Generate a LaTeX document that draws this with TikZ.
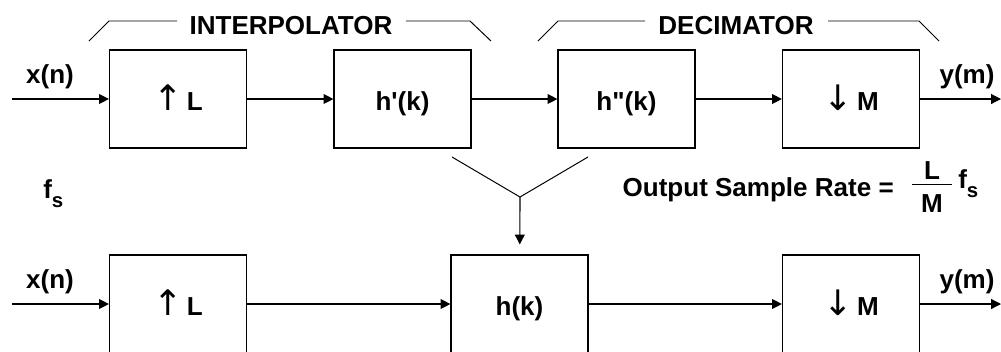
\documentclass[tikz,border=0pt]{standalone}
\usepackage{fontspec}
\setmainfont{Liberation Sans}
\newfontfamily\arrowfont{DejaVu Sans}
\usetikzlibrary{arrows.meta}

\newcommand{\upL}{{\arrowfont\mdseries\fontsize{25}{25}\selectfont\char"2191}\,L}
\newcommand{\dnM}{{\arrowfont\mdseries\fontsize{25}{25}\selectfont\char"2193}\,M}
\newcommand{\fsub}{f\raisebox{-6.4pt}{\fontsize{14.5}{15}\selectfont s}}

\begin{document}
\begin{tikzpicture}[x=0.025cm, y=-0.025cm,
  font=\fontsize{18.5}{20}\selectfont\bfseries,
  blk/.style={draw, line width=0.8pt, minimum width=3.425cm, minimum height=2.45cm, inner sep=0pt, text height=18pt, text depth=1pt},
  arr/.style={line width=0.8pt, -{Triangle[length=7pt,width=7pt]}},
  brace/.style={line width=0.7pt}]
\clip (0,0) rectangle (1001,351);
% top chain
\node[blk] (up1) at (178,99) {\upL};
\node[blk] (h1) at (402.5,99) {h\textquotesingle(k)};
\node[blk] (h2) at (626.5,99) {h\textquotedbl(k)};
\node[blk] (dn1) at (851,99) {\dnM};
\coordinate (in1) at (12,99);
\coordinate (out1) at (1001,99);
\node (x1) at (50,77) {x(n)};
\node (y1) at (967,77) {y(m)};
\draw[arr] (in1) -- (up1);
\draw[arr] (up1) -- (h1);
\draw[arr] (h1) -- (h2);
\draw[arr] (h2) -- (dn1);
\draw[arr] (dn1) -- (out1);
% brackets
\node (interp) at (291,26) {INTERPOLATOR};
\node (decim) at (736,26) {DECIMATOR};
\draw[brace] (89,41) -- (109,21) -- (177,21);
\draw[brace] (406,21) -- (470,21) -- (491,41);
\draw[brace] (538,41) -- (558,21) -- (645,21);
\draw[brace] (828,21) -- (919,21) -- (939,41);
% merge
\coordinate (vl) at (452,157);
\coordinate (vr) at (588,157);
\coordinate (vjoin) at (520,197);
\draw[brace] (vl) -- (vjoin) -- (vr);
\node[anchor=base west, inner sep=0pt] (fs) at (43,198) {\fsub};
\node[anchor=base east, inner sep=0pt] (rate) at (894,196) {Output Sample Rate =};
\node[inner sep=0pt] (fracL) at (932,171) {L};
\node[inner sep=0pt] (fracM) at (932,204) {M};
\draw[brace] (912,184) -- (952,184);
\node[anchor=base west, inner sep=0pt] (fs2) at (958,188) {\fsub};
% bottom chain
\node[blk] (up2) at (178,304) {\upL};
\node[blk] (hk) at (519.5,304) {h(k)};
\node[blk] (dn2) at (851,304) {\dnM};
\coordinate (in2) at (12,304);
\coordinate (out2) at (1001,304);
\node (x2) at (50,282) {x(n)};
\node (y2) at (967,282) {y(m)};
\draw[arr, shorten >=0.25cm] (vjoin) -- (hk);
\draw[arr] (in2) -- (up2);
\draw[arr] (up2) -- (hk);
\draw[arr] (hk) -- (dn2);
\draw[arr] (dn2) -- (out2);
\end{tikzpicture}
\end{document}
